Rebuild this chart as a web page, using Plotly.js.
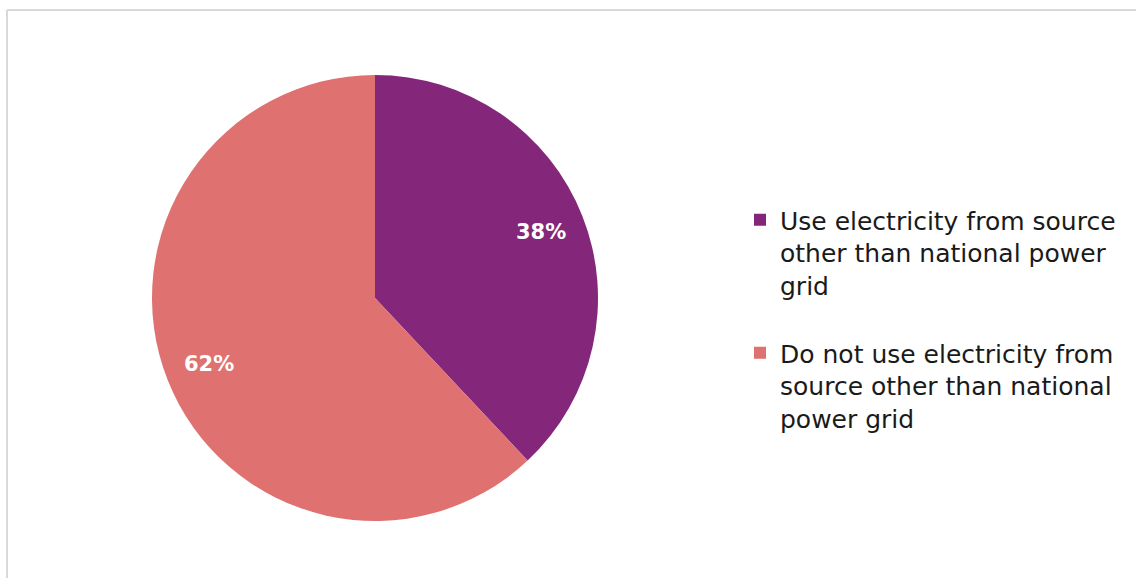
<!DOCTYPE html>
<html>
<head>
<meta charset="utf-8">
<script src="https://cdn.plot.ly/plotly-3.0.1.min.js"></script>
<style>
html,body{margin:0;padding:0;background:#fff;}
#chart{width:1136px;height:578px;}
</style>
</head>
<body>
<div id="chart"></div>
<script>
const categories = [
  "Use electricity from source<br>other than national power<br>grid<br> ",
  "Do not use electricity from<br>source other than national<br>power grid"
];
const shares = [38, 62];
const sliceColors = ["#84267a", "#e07171"];

const W = 1136, H = 578;
const cx = 375, cy = 298, R = 223;
const labelRadius = 0.8;

const trace = {
  type: "pie",
  labels: categories,
  values: shares,
  sort: false,
  direction: "clockwise",
  rotation: 0,
  marker: {colors: sliceColors, line: {color: "#ffffff", width: 0}},
  textinfo: "none",
  domain: {x: [(cx - R) / W, (cx + R) / W], y: [1 - (cy + R) / H, 1 - (cy - R) / H]},
  hoverinfo: "label+percent"
};

// percent labels placed along each slice's bisector, computed from the data
const total = shares.reduce((a, b) => a + b, 0);
let cum = 0;
const annotations = shares.map(v => {
  const mid = (cum + v / 2) / total * 2 * Math.PI;
  cum += v;
  const px = cx + labelRadius * R * Math.sin(mid);
  const py = cy - labelRadius * R * Math.cos(mid);
  return {
    xref: "paper", yref: "paper",
    x: px / W, y: 1 - py / H,
    xanchor: "center", yanchor: "middle",
    showarrow: false,
    text: Math.round(v / total * 100) + "%",
    font: {family: "DejaVu Sans, sans-serif", size: 21, color: "#ffffff", weight: "bold"}
  };
});

const layout = {
  width: W, height: H,
  margin: {l: 0, r: 0, t: 0, b: 0},
  paper_bgcolor: "#ffffff",
  showlegend: true,
  legend: {
    x: 740 / W, xanchor: "left",
    y: 1 - 197 / H, yanchor: "top",
    valign: "top",
    font: {family: "DejaVu Sans, sans-serif", size: 25, color: "#1a1a1a"},
    bgcolor: "rgba(0,0,0,0)"
  },
  annotations: annotations,
  shapes: [
    {type: "line", xref: "paper", yref: "paper", x0: 7 / W, x1: 1, y0: 1 - 10 / H, y1: 1 - 10 / H, line: {color: "#d9d9d9", width: 2}},
    {type: "line", xref: "paper", yref: "paper", x0: 7 / W, x1: 7 / W, y0: 0, y1: 1 - 10 / H, line: {color: "#d9d9d9", width: 2}}
  ]
};

Plotly.newPlot("chart", [trace], layout, {displayModeBar: false, staticPlot: true});
</script>
</body>
</html>
